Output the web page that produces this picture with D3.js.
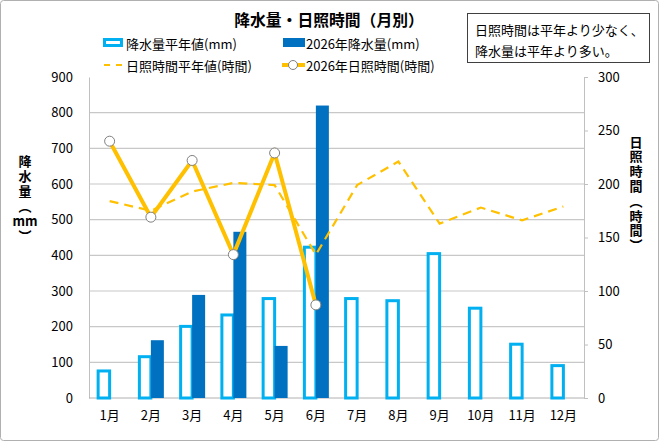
<!DOCTYPE html>
<html>
<head>
<meta charset="utf-8">
<script src="https://cdn.jsdelivr.net/npm/d3@7"></script>
<style>
	body { margin: 0; background: #fff; }
	svg text { font-family: "Noto Sans CJK JP", "Noto Sans", sans-serif; fill: #000; }
</style>
</head>
<body>
<svg id="chart" width="660" height="442"></svg>
<script>
var months = ["1月", "2月", "3月", "4月", "5月", "6月", "7月", "8月", "9月", "10月", "11月", "12月"];
var rainNormal = [80, 120, 205, 237, 283, 427, 283, 277, 409, 256, 155, 95];
var rain2026 = [0, 162, 289, 466, 146, 820, null, null, null, null, null, null];
var sunNormal = [184, 175, 193, 201, 199, 134, 199, 221, 163, 178, 166, 179];
var sun2026 = [240, 169, 222, 134, 229, 87, null, null, null, null, null, null];
var rainTicks = [0, 100, 200, 300, 400, 500, 600, 700, 800, 900];
var sunTicks = [0, 50, 100, 150, 200, 250, 300];

var svg = d3.select("#chart");
var plotL = 89, plotR = 584, plotT = 77, plotB = 398;

// outer frame
svg.append("rect")
	.attr("x", 0.5).attr("y", 0.5)
	.attr("width", 658).attr("height", 440)
	.attr("rx", 3)
	.attr("fill", "#fff")
	.attr("stroke", "#b0b0b0");

var x0 = d3.scaleBand().domain(months).range([plotL, plotR]).paddingInner(0.37).paddingOuter(0.185);
var x1 = d3.scaleBand().domain(["normal", "y2026"]).range([0, x0.bandwidth()]);
var yRain = d3.scaleLinear().domain([0, 900]).range([plotB, plotT]);
var ySun = d3.scaleLinear().domain([0, 300]).range([plotB, plotT]);
var cx = function(m) { return x0(m) + x0.bandwidth() / 2; };

// gridlines
svg.append("g").selectAll("line")
	.data(rainTicks.filter(function(t) { return t > 0 && t < 900; }))
	.join("line")
	.attr("x1", plotL).attr("x2", plotR)
	.attr("y1", function(d) { return yRain(d); })
	.attr("y2", function(d) { return yRain(d); })
	.attr("stroke", "#c8c8c8")
	.attr("stroke-width", 1.2);

// left axis
var leftAxis = svg.append("g")
	.attr("transform", "translate(" + plotL + ",0)")
	.call(d3.axisLeft(yRain).tickValues(rainTicks).tickSize(0).tickPadding(16));
leftAxis.select(".domain").attr("stroke", "#c0c0c0");
leftAxis.selectAll("text").attr("font-size", 13).style("font-family", "'Noto Sans CJK JP'");

// right axis
var rightAxis = svg.append("g")
	.attr("transform", "translate(" + plotR + ",0)")
	.call(d3.axisRight(ySun).tickValues(sunTicks).tickSize(4).tickSizeOuter(4).tickPadding(10));
rightAxis.select(".domain").attr("stroke", "#c0c0c0");
rightAxis.selectAll("line").attr("stroke", "#c0c0c0");
rightAxis.selectAll("text").attr("font-size", 13).style("font-family", "'Noto Sans CJK JP'");

// bottom axis
var bottomAxis = svg.append("g")
	.attr("transform", "translate(0," + plotB + ")")
	.call(d3.axisBottom(x0).tickSize(0).tickPadding(13));
bottomAxis.select(".domain").attr("stroke", "#b0b0b0").attr("d", "M" + plotL + ",0H" + plotR);
bottomAxis.selectAll("text").attr("font-size", 13).style("font-family", "'Noto Sans CJK JP'");

// bars: normal rainfall (outlined)
svg.append("g").selectAll("rect")
	.data(months)
	.join("rect")
	.attr("x", function(m) { return x0(m) + x1("normal") + 1.5; })
	.attr("y", function(m, i) { return yRain(rainNormal[i]) + 1.5; })
	.attr("width", x1.bandwidth() - 1.5)
	.attr("height", function(m, i) { return Math.max(0, plotB - yRain(rainNormal[i]) - 1.5); })
	.attr("fill", "#fff")
	.attr("stroke", "#00b0f0")
	.attr("stroke-width", 3);

// bars: 2026 rainfall
svg.append("g").selectAll("rect")
	.data(months.filter(function(m, i) { return rain2026[i] != null; }))
	.join("rect")
	.attr("x", function(m) { return x0(m) + x1("y2026"); })
	.attr("y", function(m) { return yRain(rain2026[months.indexOf(m)]); })
	.attr("width", x1.bandwidth())
	.attr("height", function(m) { return plotB - yRain(rain2026[months.indexOf(m)]); })
	.attr("fill", "#0070c0");

// normal sunshine (dashed)
var line = d3.line()
	.defined(function(d) { return d.v != null; })
	.x(function(d) { return cx(d.m); })
	.y(function(d) { return ySun(d.v); });

svg.append("path")
	.datum(months.map(function(m, i) { return { m: m, v: sunNormal[i] }; }))
	.attr("d", line)
	.attr("fill", "none")
	.attr("stroke", "#ffc000")
	.attr("stroke-width", 2.2)
	.attr("stroke-dasharray", "9,6");

// 2026 sunshine
var sunData = months.map(function(m, i) { return { m: m, v: sun2026[i] }; });
svg.append("path")
	.datum(sunData)
	.attr("d", line)
	.attr("fill", "none")
	.attr("stroke", "#ffc000")
	.attr("stroke-width", 4)
	.attr("stroke-linejoin", "miter");

svg.append("g").selectAll("circle")
	.data(sunData.filter(function(d) { return d.v != null; }))
	.join("circle")
	.attr("cx", function(d) { return cx(d.m); })
	.attr("cy", function(d) { return ySun(d.v); })
	.attr("r", 5)
	.attr("fill", "#fff")
	.attr("stroke", "#7f7f7f")
	.attr("stroke-width", 1);

// title
svg.append("text")
	.attr("x", 329).attr("y", 19)
	.attr("text-anchor", "middle")
	.attr("dominant-baseline", "central")
	.attr("font-size", 15.8)
	.attr("font-weight", "bold")
	.text("降水量・日照時間（月別）");

// legend
var lg = svg.append("g");
lg.append("rect")
	.attr("x", 104.5).attr("y", 39.5).attr("width", 17).attr("height", 6)
	.attr("fill", "#fff").attr("stroke", "#00b0f0").attr("stroke-width", 3);
lg.append("text").attr("x", 126).attr("y", 43).attr("dominant-baseline", "central").attr("font-size", 13).text("降水量平年値(mm)");
lg.append("rect")
	.attr("x", 283).attr("y", 38).attr("width", 22).attr("height", 9)
	.attr("fill", "#0070c0");
lg.append("text").attr("x", 306).attr("y", 43).attr("dominant-baseline", "central").attr("font-size", 13).text("2026年降水量(mm)");
lg.append("line")
	.attr("x1", 103).attr("x2", 123).attr("y1", 65).attr("y2", 65)
	.attr("stroke", "#ffc000").attr("stroke-width", 2.2).attr("stroke-dasharray", "6,6").attr("stroke-dashoffset", -1);
lg.append("text").attr("x", 126).attr("y", 65).attr("dominant-baseline", "central").attr("font-size", 13).text("日照時間平年値(時間)");
lg.append("line")
	.attr("x1", 282).attr("x2", 305).attr("y1", 65).attr("y2", 65)
	.attr("stroke", "#ffc000").attr("stroke-width", 4);
lg.append("circle")
	.attr("cx", 293).attr("cy", 65).attr("r", 4.5)
	.attr("fill", "#fff").attr("stroke", "#7f7f7f");
lg.append("text").attr("x", 306).attr("y", 65).attr("dominant-baseline", "central").attr("font-size", 13).text("2026年日照時間(時間)");

// note box
svg.append("rect")
	.attr("x", 467.5).attr("y", 13.5).attr("width", 182).attr("height", 49)
	.attr("fill", "#fff").attr("stroke", "#404040");
svg.append("text").attr("x", 475).attr("y", 29).attr("dominant-baseline", "central").attr("font-size", 13).text("日照時間は平年より少なく、");
svg.append("text").attr("x", 475).attr("y", 50).attr("dominant-baseline", "central").attr("font-size", 13).text("降水量は平年より多い。");

// axis titles (vertical, stacked)
function vTitle(chars, x, y0, step) {
	var g = svg.append("g");
	chars.forEach(function(c, i) {
		g.append("text")
			.attr("x", x).attr("y", y0 + i * step)
			.attr("text-anchor", "middle")
			.attr("dominant-baseline", "central")
			.attr("font-size", 13)
			.attr("font-weight", "bold")
			.text(c);
	});
}
vTitle(["降", "水", "量", "︵", "mm", "︶"], 25, 160, 15);
vTitle(["日", "照", "時", "間", "︵", "時", "間", "︶"], 636, 141, 14.8);
</script>
</body>
</html>
